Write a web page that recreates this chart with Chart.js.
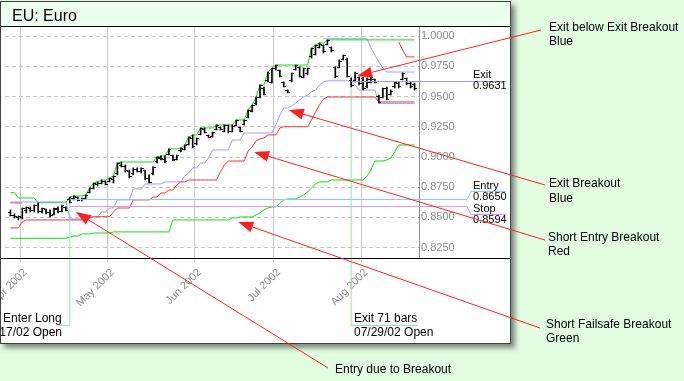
<!DOCTYPE html>
<html>
<head>
<meta charset="utf-8">
<script src="https://cdn.jsdelivr.net/npm/chart.js@4/dist/chart.umd.min.js"></script>
<style>
  html, body { margin: 0; padding: 0; background: #e1fce1; }
  canvas { display: block; }
</style>
</head>
<body>
<canvas id="euroChart" width="684" height="381"></canvas>
<script>
// bar index 0 = late March 2002, one bar per trading day
var monthTicks = [2.5, 24.5, 46.5, 66.5, 88.5];
var monthLabels = ['Apr 2002', 'May 2002', 'Jun 2002', 'Jul 2002', 'Aug 2002'];
var priceTicks = [0.825, 0.85, 0.875, 0.9, 0.925, 0.95, 0.975, 1.0];

var highs = [.8562,.8529,.8512,.8578,.8587,.8587,.8603,.8620,.8578,.8570,
  .8562,.8578,.8587,.8603,.8587,.8669,.8678,.8669,.8661,.8686,
  .8744,.8785,.8794,.8810,.8802,.8827,.8843,.8951,.8959,.8934,
  .8893,.8910,.8910,.8910,.8893,.8852,.8918,.9001,.9009,.9009,
  .9067,.9017,.9017,.9075,.9100,.9166,.9183,.9158,.9241,.9241,
  .9183,.9208,.9266,.9249,.9266,.9266,.9266,.9307,.9249,.9307,
  .9390,.9431,.9497,.9597,.9580,.9704,.9737,.9762,.9721,.9622,
  .9555,.9696,.9762,.9746,.9737,.9737,.9903,.9928,.9944,.9928,
  .9970,.9911,.9746,.9804,.9845,.9820,.9655,.9704,.9663,.9663,
  .9655,.9663,.9646,.9514,.9572,.9580,.9555,.9622,.9622,.9696,
  .9655,.9622,.9613];
var lows = [.8512,.8495,.8479,.8487,.8537,.8545,.8545,.8537,.8537,.8529,
  .8504,.8520,.8537,.8545,.8553,.8620,.8645,.8636,.8636,.8653,
  .8702,.8736,.8760,.8777,.8769,.8794,.8785,.8852,.8918,.8876,
  .8827,.8852,.8876,.8868,.8810,.8785,.8852,.8951,.8976,.8951,
  .9017,.8967,.8976,.9042,.9059,.9100,.9075,.9100,.9183,.9199,
  .9158,.9166,.9224,.9224,.9208,.9199,.9208,.9257,.9208,.9266,
  .9323,.9373,.9431,.9489,.9514,.9622,.9613,.9721,.9663,.9580,
  .9530,.9622,.9721,.9663,.9655,.9680,.9820,.9845,.9903,.9862,
  .9928,.9870,.9655,.9737,.9804,.9663,.9580,.9622,.9597,.9555,
  .9572,.9613,.9613,.9448,.9489,.9473,.9514,.9572,.9572,.9638,
  .9597,.9572,.9555];
var opens = [.8540,.8520,.8500,.8500,.8560,.8575,.8560,.8600,.8550,.8565,
  .8540,.8525,.8565,.8550,.8580,.8650,.8655,.8665,.8645,.8660,
  .8710,.8740,.8770,.8780,.8795,.8800,.8815,.8860,.8930,.8925,
  .8880,.8860,.8895,.8880,.8890,.8820,.8860,.8960,.8990,.8980,
  .9020,.9010,.8980,.9050,.9065,.9105,.9150,.9110,.9190,.9230,
  .9175,.9170,.9230,.9245,.9215,.9260,.9215,.9260,.9245,.9270,
  .9330,.9380,.9440,.9495,.9570,.9630,.9620,.9730,.9715,.9615,
  .9550,.9630,.9725,.9740,.9660,.9690,.9830,.9850,.9910,.9920,
  .9935,.9905,.9740,.9745,.9810,.9810,.9631,.9630,.9655,.9650,
  .9580,.9620,.9640,.9505,.9495,.9570,.9520,.9580,.9610,.9645,
  .9650,.9610,.9600];
var closes = [.8520,.8505,.8510,.8570,.8580,.8560,.8600,.8545,.8570,.8540,
  .8515,.8570,.8545,.8595,.8560,.8625,.8670,.8640,.8655,.8680,
  .8740,.8780,.8785,.8800,.8775,.8820,.8840,.8945,.8925,.8885,
  .8835,.8900,.8880,.8905,.8820,.8790,.8910,.8995,.8985,.8960,
  .9060,.8975,.9010,.9070,.9095,.9160,.9085,.9150,.9235,.9205,
  .9165,.9200,.9260,.9230,.9260,.9210,.9255,.9300,.9215,.9300,
  .9385,.9425,.9490,.9590,.9520,.9695,.9730,.9755,.9670,.9585,
  .9535,.9690,.9755,.9670,.9730,.9730,.9895,.9920,.9935,.9870,
  .9965,.9880,.9665,.9795,.9840,.9670,.9590,.9695,.9610,.9565,
  .9645,.9655,.9620,.9455,.9565,.9480,.9545,.9615,.9580,.9690,
  .9605,.9580,.9565];

// system lines, one value per bar
var entryBreakout = [.8705,.8705,.8661,.8661,.8661,.8661,.8661,.8622,.8622,.8622,.8622,.8622,.8622,.8622,.8622,
  .8669,.8678,.8678,.8678,.8686,.8744,.8785,.8794,.8810,.8810,.8827,.8843,
  .8951,.8959,.8959,.8959,.8959,.8959,.8959,.8959,.8959,.8959,
  .9001,.9009,.9009,.9067,.9067,.9067,.9075,.9100,.9166,.9183,.9183,.9241,.9241,.9241,.9241,
  .9266,.9266,.9266,.9266,.9266,.9307,.9307,.9307,.9390,.9431,.9497,.9597,.9597,.9704,.9737,
  .9762,.9762,.9762,.9762,.9762,.9762,.9762,.9762,.9762,.9903,.9928,.9944,.9944,
  .9970,.9970,.9970,.9970,.9970,.9970,.9970,.9970,.9970,.9970,.9970,.9970,
  .9970,.9970,.9970,.9970,.9970,.9970,.9970,.9970,.9970,.9970,.9970];
var exitBreakout = [.8628,.8628,.8628,.8628,.8628,.8628,.8628,.8628,.8628,.8628,.8628,.8628,.8628,.8628,.8628,
  .8487,.8487,.8487,.8487,.8487,.8504,.8504,.8504,.8545,.8545,.8578,.8578,
  .8645,.8645,.8645,.8645,.8736,.8736,.8736,.8777,.8777,.8777,.8777,.8777,
  .8794,.8794,.8794,.8794,.8794,.8843,.8868,.8910,.8910,.8951,.8951,.8992,
  .9059,.9059,.9059,.9059,.9059,.9141,.9141,.9141,
  .9199,.9199,.9199,.9199,.9199,.9199,.9199,.9199,
  .9266,.9348,.9406,.9406,.9423,.9448,.9473,.9497,.9514,.9539,.9555,.9597,.9622,
  .9631,.9631,.9631,.9631,.9631,.9631,.9631,.9597,.9555,.9555,.9555,.9555,.9555,
  .9444,.9444,.9444,.9444,.9444,.9444,.9444,.9444,.9444,.9444];
var shortEntry = [.8413,.8413,.8413,.8462,
  .8479,.8479,.8479,.8479,.8479,.8479,.8479,.8479,.8479,.8479,.8479,.8479,.8479,.8479,.8479,
  .8495,.8495,.8506,.8506,.8506,.8506,.8506,.8545,.8578,.8578,.8578,.8578,
  .8645,.8645,.8645,.8645,.8645,.8669,.8669,.8702,.8702,.8727,.8727,.8769,.8794,.8794,
  .8810,.8810,.8810,.8810,.8810,.8810,.8810,.8810,.8876,.8934,
  .8967,.8967,.8967,.8967,.8967,.9050,.9083,.9133,.9150,.9158,.9183,.9183,.9183,.9241,
  .9251,.9251,.9251,.9251,.9251,.9251,.9251,.9307,.9373,.9431,.9481,
  .9497,.9497,.9497,.9497,.9497,.9497,.9497,.9497,.9497,.9497,.9497,.9497,.9497,
  .9456,.9456,.9456,.9456,.9456,.9456,.9456,.9456,.9456,.9456];
var shortFailsafe = [.8327,.8327,.8327,.8327,.8327,.8327,.8327,.8327,.8327,.8327,.8327,.8327,.8327,.8327,.8327,
  .8338,.8346,.8346,.8363,.8363,.8363,.8371,.8371,.8371,.8371,.8371,
  .8380,.8380,.8380,.8380,.8380,.8380,.8380,.8380,.8380,.8380,.8380,.8380,.8380,.8380,.8380,
  .8479,.8479,.8479,.8479,.8479,.8479,.8479,.8479,.8479,.8479,.8479,.8479,.8479,.8479,.8479,
  .8495,.8495,.8504,.8504,.8504,.8504,.8520,.8537,.8562,.8578,.8587,.8587,.8620,.8645,
  .8653,.8653,.8653,.8669,.8686,.8711,.8744,.8777,.8794,.8794,.8794,
  .8810,.8810,.8810,.8810,.8810,.8810,.8810,.8810,.8810,
  .8843,.8893,.8967,.8967,.8967,.8976,.8992,.9042,.9100,.9100,.9100,.9100,.9100];
// short pieces, each starting at the bar given
var upperExitStart = 79;
var upperExit = [.9980,.9980,.9980,.9980,.9980,.9980,.9980,.9980,.9980,.9980,.9980,.9980,
  .9903,.9845,.9787,.9737,.9704,.9704,.9704,.9704,.9704,.9704,.9704,.9704];
var upperRedEarly = [.8620,.8620,.8620,.8620];
var upperRedLateStart = 98;
var upperRedLate = [.9953,.9887,.9829,.9829,.9829];

// trade
var entryBar = 15, exitBar = 86;
var entryPrice = 0.8650, stopPrice = 0.8594, exitPrice = 0.9631;

(function () {
  var GREEN = '#00e600', RED = '#ff3030', BLUE = '#9b9bff';
  var FONT = '"Liberation Sans", Arial, sans-serif';
  Chart.defaults.font.family = FONT;

  function points(arr, start) {
    start = start || 0;
    return arr.map(function (v, k) { return { x: start + k, y: v }; });
  }
  function lineDs(arr, color, start) {
    return { type: 'line', data: points(arr, start), borderColor: color, borderWidth: 1,
      pointRadius: 0, tension: 0, fill: false, order: 3 };
  }
  function tickImg(left) {
    var c = document.createElement('canvas');
    c.width = 5; c.height = 1;
    var g = c.getContext('2d');
    g.fillStyle = '#000';
    g.fillRect(left ? 0 : 3, 0, 2, 1);
    return c;
  }

  function arrow(ctx, x1, y1, x2, y2) {
    var a = Math.atan2(y2 - y1, x2 - x1), L = 15, W = 5.5;
    var bx = x2 - L * Math.cos(a), by = y2 - L * Math.sin(a);
    ctx.beginPath();
    ctx.moveTo(x1, y1);
    ctx.lineTo(bx, by);
    ctx.stroke();
    ctx.beginPath();
    ctx.moveTo(x2, y2);
    ctx.lineTo(bx + W * Math.sin(a), by - W * Math.cos(a));
    ctx.lineTo(bx - W * Math.sin(a), by + W * Math.cos(a));
    ctx.closePath();
    ctx.fill();
  }

  var decor = {
    id: 'decor',
    beforeDraw: function (chart) {
      var ctx = chart.ctx;
      ctx.save();
      ctx.fillStyle = '#e1fce1';
      ctx.fillRect(0, 0, chart.width, chart.height);
      ctx.shadowColor = 'rgba(0,0,0,0.45)';
      ctx.shadowOffsetX = 4; ctx.shadowOffsetY = 4; ctx.shadowBlur = 5;
      ctx.fillStyle = '#fff';
      ctx.fillRect(0, 1, 511, 343);
      ctx.restore();
      ctx.save();
      ctx.fillStyle = '#edffed';
      ctx.fillRect(1, 2, 509, 24);
      ctx.fillStyle = '#000';
      ctx.font = '16px ' + FONT;
      ctx.fillText('EU: Euro', 12, 21);
      ctx.restore();
    },
    afterDatasetsDraw: function (chart) {
      var ctx = chart.ctx, xs = chart.scales.x, ys = chart.scales.y;
      ctx.save();
      ctx.lineWidth = 1;
      // entry / stop / exit levels with their labels
      var xe = xs.getPixelForValue(entryBar);
      var ye = Math.round(ys.getPixelForValue(entryPrice)) + 0.5;
      var yst = Math.round(ys.getPixelForValue(stopPrice)) + 0.5;
      ctx.strokeStyle = '#88c8ff';
      ctx.beginPath(); ctx.moveTo(xe, ye); ctx.lineTo(467, ye); ctx.lineTo(471, 191.5); ctx.lineTo(506, 191.5); ctx.stroke();
      ctx.strokeStyle = '#dd99dd';
      ctx.beginPath(); ctx.moveTo(xe, yst); ctx.lineTo(467, yst); ctx.lineTo(471, 214.5); ctx.lineTo(506, 214.5); ctx.stroke();
      var xx = xs.getPixelForValue(exitBar);
      var yx = Math.round(ys.getPixelForValue(exitPrice)) + 0.5;
      ctx.strokeStyle = BLUE;
      ctx.beginPath(); ctx.moveTo(xx, yx); ctx.lineTo(506, yx); ctx.stroke();

      // trade markers
      ctx.strokeStyle = '#8ee8a8';
      ctx.beginPath();
      ctx.moveTo(xe, ys.getPixelForValue(lows[entryBar])); ctx.lineTo(xe, 325.5); ctx.lineTo(60, 325.5);
      ctx.moveTo(xx, ys.getPixelForValue(lows[exitBar])); ctx.lineTo(xx, 325.5); ctx.lineTo(418, 325.5);
      ctx.stroke();

      // frame lines
      ctx.strokeStyle = '#000';
      ctx.beginPath();
      ctx.moveTo(1, 26.5); ctx.lineTo(510, 26.5);
      ctx.moveTo(1, 258.5); ctx.lineTo(510, 258.5);
      ctx.stroke();

      ctx.beginPath(); ctx.rect(1, 2, 509, 341); ctx.clip();
      ctx.fillStyle = '#000';
      ctx.font = '11px ' + FONT;
      ctx.fillText('Exit', 473, 77.5);
      ctx.fillText(exitPrice.toFixed(4), 473, 88.5);
      ctx.fillText('Entry', 473, 189);
      ctx.fillText(entryPrice.toFixed(4), 473, 200);
      ctx.fillText('Stop', 473, 212);
      ctx.fillText(stopPrice.toFixed(4), 473, 222.5);
      ctx.font = '12px ' + FONT;
      ctx.fillText('Enter Long', 3, 322);
      ctx.textAlign = 'right';
      ctx.fillText('04/17/02 Open', 62, 336);
      ctx.textAlign = 'left';
      ctx.fillText('Exit 71 bars', 354, 322);
      ctx.fillText('07/29/02 Open', 354, 336);
      ctx.restore();
    },
    afterDraw: function (chart) {
      var ctx = chart.ctx, xs = chart.scales.x, ys = chart.scales.y;
      ctx.save();
      ctx.strokeStyle = '#404040';
      ctx.lineWidth = 1;
      ctx.strokeRect(0.5, 1.5, 510, 342);

      ctx.strokeStyle = '#ff2020';
      ctx.fillStyle = '#ff2020';
      var notes = [
        [541, 30, 87.5, 0.9671],
        [545, 185, 70.25, 0.9390],
        [545, 240, 61.5, 0.9042],
        [540, 328, 57.5, 0.8462],
        [328, 368, 16.5, 0.8545]
      ];
      notes.forEach(function (n) {
        arrow(ctx, n[0], n[1], xs.getPixelForValue(n[2]), ys.getPixelForValue(n[3]));
      });

      ctx.fillStyle = '#000';
      ctx.font = '12px ' + FONT;
      ctx.fillText('Exit below Exit Breakout', 549, 31);
      ctx.fillText('Blue', 549, 45);
      ctx.fillText('Exit Breakout', 549, 187);
      ctx.fillText('Blue', 549, 202);
      ctx.fillText('Short Entry Breakout', 548, 241);
      ctx.fillText('Red', 548, 255);
      ctx.fillText('Short Failsafe Breakout', 546, 328);
      ctx.fillText('Green', 546, 342);
      ctx.fillText('Entry due to Breakout', 335, 373);
      ctx.restore();
    }
  };

  new Chart(document.getElementById('euroChart'), {
    type: 'line',
    data: {
      datasets: [
        lineDs(shortFailsafe, GREEN),
        lineDs(shortEntry, RED),
        lineDs(exitBreakout, BLUE),
        lineDs(entryBreakout, GREEN),
        lineDs(upperExit, BLUE, upperExitStart),
        lineDs(upperRedEarly, RED, 0),
        lineDs(upperRedLate, RED, upperRedLateStart),
        { type: 'bar', data: highs.map(function (h, i) { return { x: i, y: [lows[i], h] }; }),
          backgroundColor: '#000', barThickness: 1, borderWidth: 0, order: 2 },
        { type: 'scatter', data: points(opens), pointStyle: tickImg(true), pointRadius: 1, order: 1 },
        { type: 'scatter', data: points(closes), pointStyle: tickImg(false), pointRadius: 1, order: 1 }
      ]
    },
    options: {
      responsive: false,
      devicePixelRatio: 1,
      animation: false,
      events: [],
      layout: { padding: { left: 1, top: 26, right: 174, bottom: 38 } },
      plugins: { legend: { display: false }, tooltip: { enabled: false } },
      scales: {
        x: {
          type: 'linear', position: 'bottom', offset: false,
          min: -1.375, max: 103.125,
          afterFit: function (s) { s.height = 85; s.paddingLeft = 0; s.paddingRight = 0; },
          afterBuildTicks: function (s) { s.ticks = monthTicks.map(function (v) { return { value: v }; }); },
          ticks: {
            autoSkip: false, minRotation: 45, maxRotation: 45, color: '#8c8c8c',
            font: { size: 11 }, padding: 4, labelOffset: 5,
            callback: function (v, i) { return monthLabels[i]; }
          },
          grid: { color: '#c8c8c8', lineWidth: 1, drawTicks: true, tickLength: 4, offset: false },
          border: { display: false }
        },
        y: {
          type: 'linear', position: 'right',
          min: 0.8164, max: 1.0085,
          afterFit: function (s) { s.width = 91; },
          afterBuildTicks: function (s) { s.ticks = priceTicks.map(function (v) { return { value: v }; }); },
          ticks: {
            color: '#8c8c8c', font: { size: 11 }, padding: 2,
            callback: function (v) { return Number(v).toFixed(4); }
          },
          grid: { color: '#c4c4c4', lineWidth: 1, drawTicks: false },
          border: { display: true, color: '#8c8c8c', dash: [4, 3] }
        }
      }
    },
    plugins: [decor]
  });
})();
</script>
</body>
</html>
